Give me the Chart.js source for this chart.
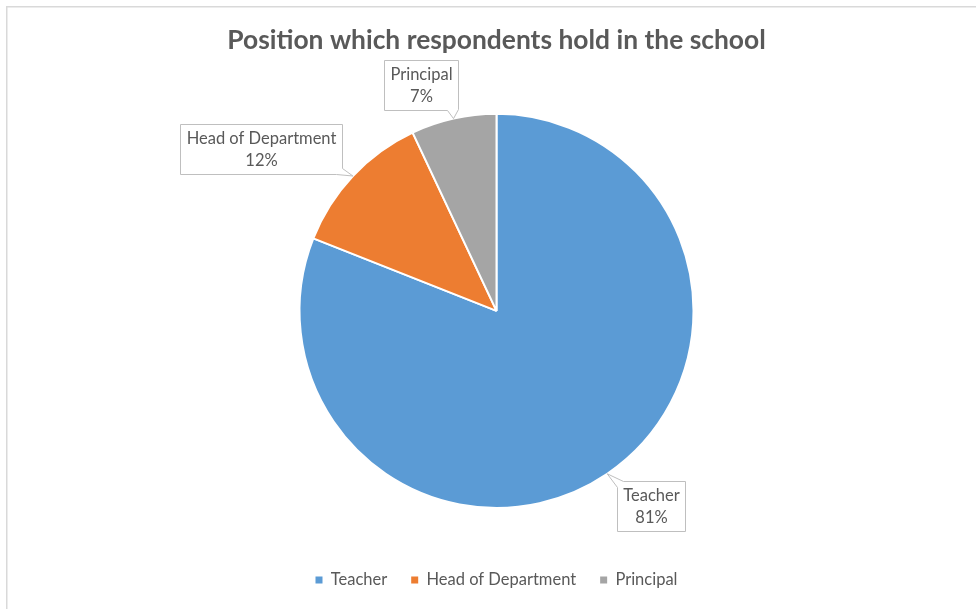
<!DOCTYPE html>
<html>
<head>
<meta charset="utf-8">
<script src="https://cdn.jsdelivr.net/npm/chart.js@4/dist/chart.umd.min.js"></script>
<style>
  html, body { margin: 0; padding: 0; background: #ffffff; overflow: hidden; }
  #wrap { position: relative; width: 976px; height: 609px; }
</style>
</head>
<body>
<div id="wrap"><canvas id="chart" width="976" height="609"></canvas></div>
<script>
// Survey data: position held by respondents (percent of respondents)
const categories = ['Teacher', 'Head of Department', 'Principal'];
const shares = [81, 12, 7];
const sliceColors = ['#5B9BD5', '#ED7D31', '#A5A5A5'];
const chartTitle = 'Position which respondents hold in the school';

const FONT = 'Lato, "Open Sans", sans-serif';
const TEXT_GRAY = '#595959';
const LABEL_SIZE = 16.5;

// Where each callout box sits relative to the point on its slice edge
const calloutOffsets = [[44, 32], [-92, -27], [-33, -34]];

// Thin frame along the top and left of the chart area
const framePlugin = {
  id: 'frame',
  beforeDraw(chart) {
    const ctx = chart.ctx;
    ctx.save();
    ctx.fillStyle = '#ffffff';
    ctx.fillRect(0, 0, chart.width, chart.height);
    ctx.fillStyle = '#d9d9d9';
    ctx.fillRect(6, 6, chart.width, 1.5);
    ctx.fillRect(6, 6, 1.5, chart.height);
    ctx.restore();
  }
};

// Callout labels: rectangle with a wedge pointing at the slice's mid-angle edge
function perimeterPoint(r, s) {
  const P = 2 * (r.w + r.h);
  s = ((s % P) + P) % P;
  if (s < r.w) return [r.x + s, r.y];
  s -= r.w;
  if (s < r.h) return [r.x + r.w, r.y + s];
  s -= r.h;
  if (s < r.w) return [r.x + r.w - s, r.y + r.h];
  s -= r.w;
  return [r.x, r.y + r.h - s];
}
function nearestPerimeterS(r, px, py) {
  const cx = Math.min(Math.max(px, r.x), r.x + r.w);
  const cy = Math.min(Math.max(py, r.y), r.y + r.h);
  const dTop = Math.abs(cy - r.y), dBot = Math.abs(cy - (r.y + r.h));
  const dLeft = Math.abs(cx - r.x), dRight = Math.abs(cx - (r.x + r.w));
  const m = Math.min(dTop, dBot, dLeft, dRight);
  if (m === dTop) return cx - r.x;
  if (m === dRight) return r.w + (cy - r.y);
  if (m === dBot) return r.w + r.h + (r.x + r.w - cx);
  return 2 * r.w + r.h + (r.y + r.h - cy);
}

const calloutPlugin = {
  id: 'callouts',
  afterDatasetsDraw(chart) {
    const ctx = chart.ctx;
    const meta = chart.getDatasetMeta(0);
    const total = shares.reduce((a, b) => a + b, 0);
    ctx.save();
    ctx.font = LABEL_SIZE + 'px ' + FONT;
    const lineH = 22;
    meta.data.forEach((arc, i) => {
      const p = arc.getProps(['x', 'y', 'startAngle', 'endAngle', 'outerRadius'], true);
      const mid = (p.startAngle + p.endAngle) / 2;
      const tipX = p.x + Math.cos(mid) * p.outerRadius;
      const tipY = p.y + Math.sin(mid) * p.outerRadius;
      const lines = [categories[i], Math.round(shares[i] / total * 100) + '%'];
      const tw = Math.max(...lines.map(t => ctx.measureText(t).width));
      const w = Math.round(tw + 12), h = 50;
      const cx = tipX + calloutOffsets[i][0], cy = tipY + calloutOffsets[i][1];
      const r = { x: Math.round(cx - w / 2) + 0.5, y: Math.round(cy - h / 2) + 0.5, w, h };
      const P = 2 * (r.w + r.h);
      const s = nearestPerimeterS(r, tipX, tipY);
      const s1 = s - 6, s2 = s + 6;
      const corners = [0, r.w, r.w + r.h, 2 * r.w + r.h];
      ctx.beginPath();
      let pt = perimeterPoint(r, s2);
      ctx.moveTo(pt[0], pt[1]);
      // walk clockwise from s2 round to s1
      const span = ((s1 - s2) % P + P) % P;
      const s2n = ((s2 % P) + P) % P;
      const pts = [];
      corners.forEach(c => {
        const d = ((c - s2n) % P + P) % P;
        if (d > 0 && d < span) pts.push([d, c]);
      });
      pts.sort((a, b) => a[0] - b[0]);
      pts.forEach(([, c]) => { const q = perimeterPoint(r, c); ctx.lineTo(q[0], q[1]); });
      pt = perimeterPoint(r, s1);
      ctx.lineTo(pt[0], pt[1]);
      ctx.lineTo(tipX, tipY);
      ctx.closePath();
      ctx.fillStyle = '#ffffff';
      ctx.fill();
      ctx.strokeStyle = '#bfbfbf';
      ctx.lineWidth = 1;
      ctx.stroke();
      ctx.fillStyle = TEXT_GRAY;
      ctx.textAlign = 'center';
      ctx.textBaseline = 'middle';
      const midX = r.x + r.w / 2, midY = r.y + r.h / 2;
      ctx.fillText(lines[0], midX, midY - lineH / 2);
      ctx.fillText(lines[1], midX, midY + lineH / 2);
    });
    ctx.restore();
  }
};

new Chart(document.getElementById('chart'), {
  type: 'pie',
  data: {
    labels: categories,
    datasets: [{
      data: shares,
      backgroundColor: sliceColors,
      borderColor: '#ffffff',
      borderWidth: 2,
      radius: 197
    }]
  },
  options: {
    responsive: false,
    animation: false,
    devicePixelRatio: 1,
    layout: { padding: { left: 17, right: 0, top: 0, bottom: 10.75 } },
    plugins: {
      title: {
        display: true,
        text: chartTitle,
        color: TEXT_GRAY,
        font: { family: FONT, size: 26.4, weight: 'bold' },
        padding: { top: 24.2, bottom: 18.1 }
      },
      legend: {
        position: 'bottom',
        labels: {
          color: TEXT_GRAY,
          font: { family: FONT, size: LABEL_SIZE },
          boxWidth: 7,
          boxHeight: 7,
          padding: 24,
          generateLabels(chart) {
            return Chart.overrides.pie.plugins.legend.labels.generateLabels(chart)
              .map(l => Object.assign(l, { lineWidth: 0, strokeStyle: 'rgba(0,0,0,0)' }));
          }
        }
      },
      tooltip: { enabled: false }
    }
  },
  plugins: [framePlugin, calloutPlugin]
});
</script>
</body>
</html>
